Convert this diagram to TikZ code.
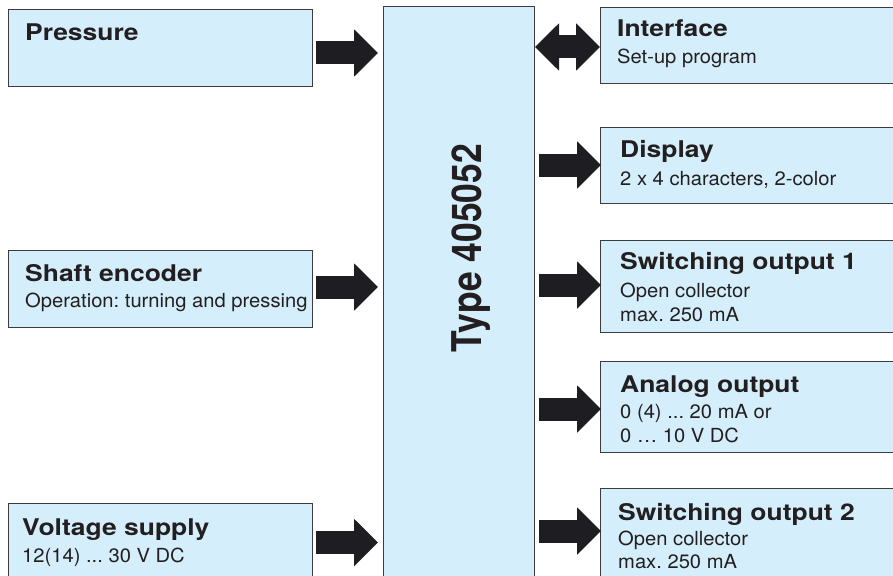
\documentclass[tikz,border=0pt]{standalone}
\usepackage{fontspec}
\usetikzlibrary{arrows.meta,calc}
\newfontfamily\hvtitle[FakeStretch=1.15]{TeX Gyre Heros}
\newfontfamily\hvsub[FakeStretch=1.04]{TeX Gyre Heros}
\newfontfamily\hvtype[FakeStretch=0.866]{TeX Gyre Heros}
\definecolor{boxfill}{HTML}{D4EEFB}
\definecolor{boxline}{HTML}{3C3C3C}
\definecolor{ink}{HTML}{1E1D21}
\definecolor{txt}{HTML}{231F20}
\frenchspacing
\begin{document}
\begin{tikzpicture}[x=1pt,y=-1pt,
 blk/.style={draw=boxline, fill=boxfill, line width=0.9pt, inner sep=0pt, outer sep=0pt, anchor=north west},
 ttl/.style={anchor=base west, inner sep=0pt, text=txt, font=\hvtitle\bfseries\fontsize{23}{27}\selectfont},
 sub/.style={anchor=base west, inner sep=0pt, text=txt, font=\hvsub\fontsize{19.4}{22}\selectfont},
 typetxt/.style={anchor=base, inner sep=0pt, rotate=90, text=txt, font=\hvtype\bfseries\fontsize{41}{45}\selectfont},
 bigarrow/.style={draw=ink, line width=23pt, -{Triangle[length=24pt 0 0,width=46pt 0 0]}},
 dblarrow/.style={draw=ink, line width=23pt, {Triangle[length=24pt 0 0,width=46pt 0 0]}-{Triangle[length=24pt 0 0,width=46pt 0 0]}}
]
\clip (0,0) rectangle (893,575);
% boxes
\node[blk, minimum width=304pt, minimum height=77pt] (press) at (8,9) {};
\node[blk, minimum width=304pt, minimum height=77pt] (shaft) at (8,250) {};
\node[blk, minimum width=304pt, minimum height=90pt] (volt) at (8,503) {};
\node[blk, minimum width=151pt, minimum height=600pt] (central) at (383,6) {};
\node[blk, minimum width=310pt, minimum height=76pt] (iface) at (600,7) {};
\node[blk, minimum width=310pt, minimum height=76pt] (disp) at (600,127) {};
\node[blk, minimum width=310pt, minimum height=92pt] (sw1) at (600,240) {};
\node[blk, minimum width=310pt, minimum height=91pt] (analog) at (600,361) {};
\node[blk, minimum width=310pt, minimum height=110pt] (sw2) at (600,488) {};
% texts
\node[ttl] (pressT) at ($(press.north west)+(17,32)$) {Pressure};
\node[ttl] (shaftT) at ($(shaft.north west)+(17,31)$) {Shaft encoder};
\node[sub] (shaftS) at ($(shaft.north west)+(17,57)$) {Operation: turning and pressing};
\node[ttl] (voltT) at ($(volt.north west)+(14,32)$) {Voltage supply};
\node[sub] (voltS) at ($(volt.north west)+(14,59)$) {12(14) ... 30 V DC};
\node[typetxt] (typeT) at ($(central.north)+(22.5,242)$) {Type 405052};
\node[ttl] (ifaceT) at ($(iface.north west)+(17,30)$) {Interface};
\node[sub] (ifaceS) at ($(iface.north west)+(17,57)$) {Set-up program};
\node[ttl] (dispT) at ($(disp.north west)+(20,30)$) {Display};
\node[sub] (dispS) at ($(disp.north west)+(20,58)$) {2 x 4 characters, 2-color};
\node[ttl] (sw1T) at ($(sw1.north west)+(20,29)$) {Switching output 1};
\node[sub] (sw1S) at ($(sw1.north west)+(20,57)$) {Open collector};
\node[sub] (sw1U) at ($(sw1.north west)+(20,81)$) {max. 250 mA};
\node[ttl] (analogT) at ($(analog.north west)+(20,31)$) {Analog output};
\node[sub] (analogS) at ($(analog.north west)+(20,57)$) {0 (4) ... 20 mA or};
\node[sub] (analogU) at ($(analog.north west)+(20,81)$) {0 … 10 V DC};
\node[ttl] (sw2T) at ($(sw2.north west)+(18,32)$) {Switching output 2};
\node[sub] (sw2S) at ($(sw2.north west)+(18,57)$) {Open collector};
\node[sub] (sw2U) at ($(sw2.north west)+(18,80)$) {max. 250 mA};
% input arrows
\coordinate (a1) at ($(press.east)+(4,5.5)$);
\draw[bigarrow] (a1) -- ($(a1 -| central.west)+(-5,0)$);
\coordinate (a2) at ($(shaft.east)+(4,-1.5)$);
\draw[bigarrow] (a2) -- ($(a2 -| central.west)+(-5,0)$);
\coordinate (a3) at ($(volt.east)+(4,-5.5)$);
\draw[bigarrow] (a3) -- ($(a3 -| central.west)+(-5,0)$);
% output arrows
\draw[dblarrow] ($(central.east |- iface.west)+(1,2)$) -- ($(iface.west)+(0,2)$);
\draw[bigarrow] ($(central.east |- disp.west)+(5,0)$) -- ($(disp.west)+(1,0)$);
\draw[bigarrow] ($(central.east |- sw1.west)+(5,-1)$) -- ($(sw1.west)+(1,-1)$);
\draw[bigarrow] ($(central.east |- analog.west)+(5,2.5)$) -- ($(analog.west)+(1,2.5)$);
\draw[bigarrow] ($(central.east |- sw2.west)+(5,-12)$) -- ($(sw2.west)+(1,-12)$);
\end{tikzpicture}
\end{document}
